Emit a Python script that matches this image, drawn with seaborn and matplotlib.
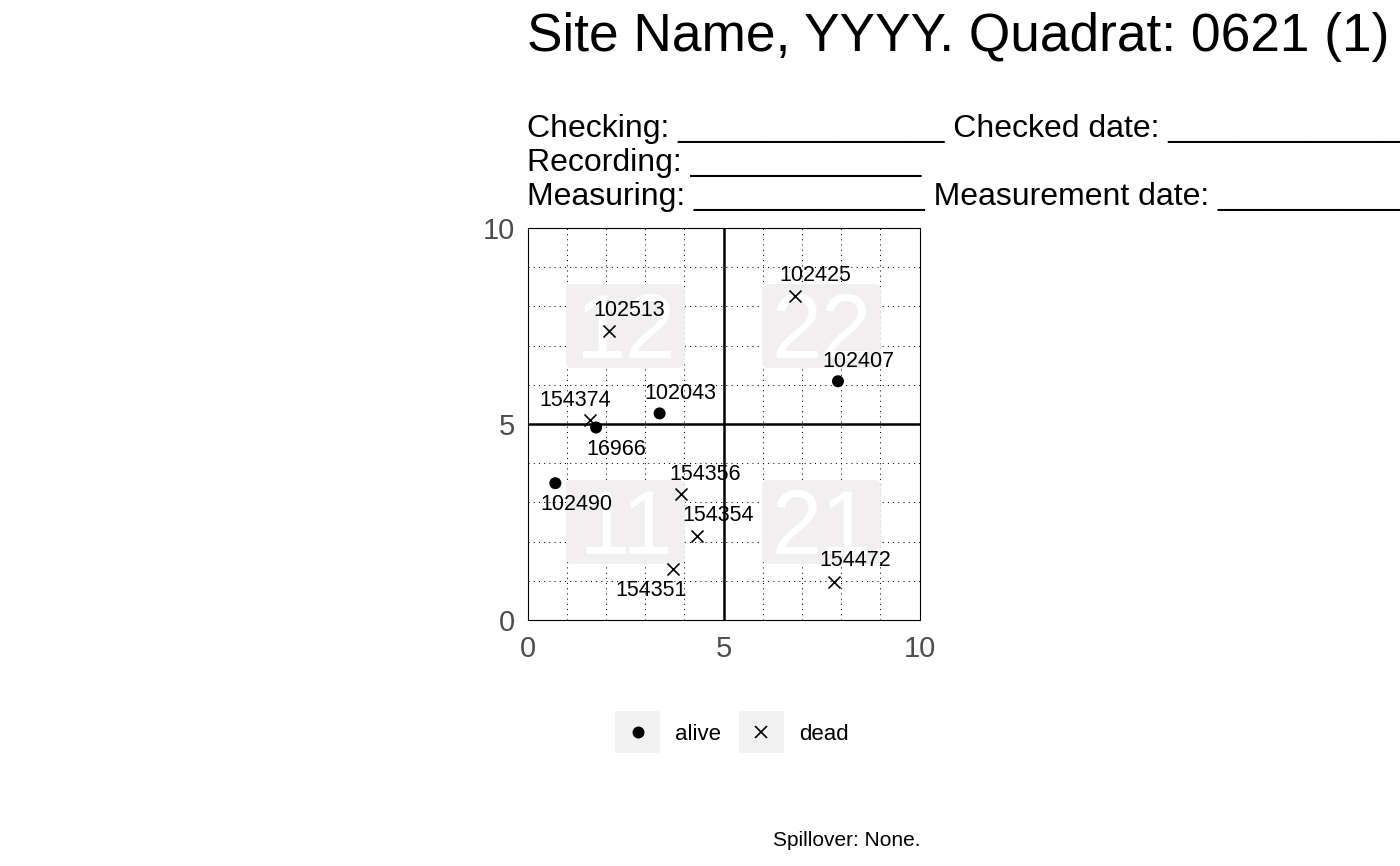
import matplotlib
matplotlib.use("Agg")
import matplotlib.pyplot as plt
import matplotlib.transforms as mtransforms
from matplotlib.patches import FancyBboxPatch, Rectangle
from matplotlib.lines import Line2D
from matplotlib.legend_handler import HandlerBase
import seaborn as sns
import pandas as pd

# ---------------- data ----------------
tags = ["102513", "102425", "102407", "102043", "154374", "16966",
        "102490", "154356", "154354", "154351", "154472"]
gx = [2.07, 6.82, 7.92, 3.37, 1.60, 1.75, 0.71, 3.92, 4.32, 3.70, 7.82]
gy = [7.38, 8.27, 6.09, 5.27, 5.10, 4.91, 3.49, 3.21, 2.15, 1.29, 0.98]
status = ["dead", "dead", "alive", "alive", "dead", "alive",
          "alive", "dead", "dead", "dead", "dead"]
# label offsets (points) as placed by the repel layout in the reference
label_dx = [14.7, 15.0, 14.8, 15.1, -11.0, 14.8, 15.3, 17.1, 15.3, -15.5, 15.1]
label_dy = [14.9, 14.5, 13.9, 14.0, 14.0, -15.8, -15.6, 14.1, 14.5, -15.5, 15.1]

quadrat_names = ["11", "12", "21", "22"]
quadrat_cx = [2.5, 2.5, 7.5, 7.5]
quadrat_cy = [2.5, 7.5, 2.5, 7.5]

title = "Site Name, YYYY. Quadrat: 0621 (1)"
subtitle_lines = [
    "Checking: " + "_" * 15 + " Checked date: " + "_" * 15,
    "Recording: " + "_" * 13,
    "Measuring: " + "_" * 13 + " Measurement date: " + "_" * 13,
]
caption = "Spillover: None."
axis_ticks = [0, 5, 10]
legend_labels = ["alive", "dead"]

df = pd.DataFrame({"gx": gx, "gy": gy, "status": status, "tag": tags})

# ---------------- style ----------------
sns.set_theme(style="white")
plt.rcParams["font.family"] = ["Liberation Sans", "DejaVu Sans"]

W, H = 1400, 866
fig = plt.figure(figsize=(W / 100, H / 100), dpi=100)
ax = fig.add_axes([527 / W, 1 - 620 / H, 393 / W, 392 / H])

ax.set_xlim(0, 10)
ax.set_ylim(0, 10)
ax.set_aspect("equal", adjustable="box")

# grid
ax.set_xticks(axis_ticks)
ax.set_yticks(axis_ticks)
ax.set_xticks(range(1, 10), minor=True)
ax.set_yticks(range(1, 10), minor=True)
ax.grid(False, which="major")
ax.grid(True, which="minor", color="black", linewidth=0.75,
        linestyle=(0, (1, 4)), zorder=0)
ax.set_axisbelow(True)
ax.axvline(5, color="black", linewidth=1.8, zorder=1)
ax.axhline(5, color="black", linewidth=1.8, zorder=1)

ax.tick_params(which="both", length=0)
ax.tick_params(axis="x", which="major", labelsize=21, labelcolor="#4D4D4D", pad=11)
ax.tick_params(axis="y", which="major", labelsize=21, labelcolor="#4D4D4D", pad=9)
for sp in ax.spines.values():
    sp.set_visible(True)
    sp.set_color("black")
    sp.set_linewidth(0.8)

# quadrant labels
bw, bh, r = 3.03, 2.14, 0.15
for name, cx, cy in zip(quadrat_names, quadrat_cx, quadrat_cy):
    box = FancyBboxPatch((cx - bw / 2 + r, cy - bh / 2 + r), bw - 2 * r, bh - 2 * r,
                         boxstyle=f"round,pad={r}", facecolor="#F1EFEF",
                         edgecolor="none", zorder=2)
    ax.add_patch(box)
    tr = mtransforms.offset_copy(ax.transData, fig=fig, x=0, y=-22.8, units="points")
    ax.text(cx, cy, name, transform=tr, ha="center", va="baseline",
            fontsize=65, color="white", zorder=3)

# points
alive = df[df["status"] == "alive"]
dead = df[df["status"] == "dead"]
sns.scatterplot(data=alive, x="gx", y="gy", marker="o", color="black", s=75,
                edgecolor="none", ax=ax, legend=False, zorder=4)
sns.scatterplot(data=dead, x="gx", y="gy", marker="x", color="black", s=75,
                linewidth=1.2, ax=ax, legend=False, zorder=4)

for t, x, y, dx, dy in zip(tags, gx, gy, label_dx, label_dy):
    ax.annotate(t, (x, y), xytext=(dx, dy), textcoords="offset points",
                ha="center", va="center", fontsize=15.5, color="black", zorder=5)

ax.set_xlabel("")
ax.set_ylabel("")


# legend: grey key box with the marker centred on the label
class KeyHandler(HandlerBase):
    def create_artists(self, legend, orig_handle, xdescent, ydescent, width,
                       height, fontsize, trans):
        yc = 0.36 * fontsize
        kh = 30.0
        rect = Rectangle((-xdescent, yc - kh / 2), width, kh, facecolor="#F2F2F2",
                         edgecolor="none", transform=trans)
        mk = Line2D([-xdescent + width / 2], [yc], marker=orig_handle.get_marker(),
                    color="black", linestyle="", markersize=8.6,
                    markeredgewidth=orig_handle.get_markeredgewidth(),
                    transform=trans)
        return [rect, mk]


h_alive = Line2D([], [], marker="o", color="black", linestyle="", markeredgewidth=0)
h_dead = Line2D([], [], marker="x", color="black", linestyle="", markeredgewidth=1.2)
leg = fig.legend([h_alive, h_dead], legend_labels,
                 handler_map={Line2D: KeyHandler()},
                 loc="center", bbox_to_anchor=(732 / W, 1 - 733 / H), ncol=2,
                 frameon=False, fontsize=16, handlelength=2.0, handleheight=1.9,
                 handletextpad=0.7, columnspacing=0.8, borderpad=0)
for txt in leg.get_texts():
    txt.set_color("black")

# titles
fig.text(527 / W, 1 - 51 / H, title, ha="left", va="baseline", fontsize=38.3, color="black")
for i, line in enumerate(subtitle_lines):
    fig.text(527 / W, 1 - (137 + 34 * i) / H, line, ha="left", va="baseline",
             fontsize=23, color="black")
fig.text(921 / W, 1 - 846 / H, caption, ha="right", va="baseline", fontsize=15,
         color="black")

fig.savefig("out.png", dpi=100, facecolor="white")
